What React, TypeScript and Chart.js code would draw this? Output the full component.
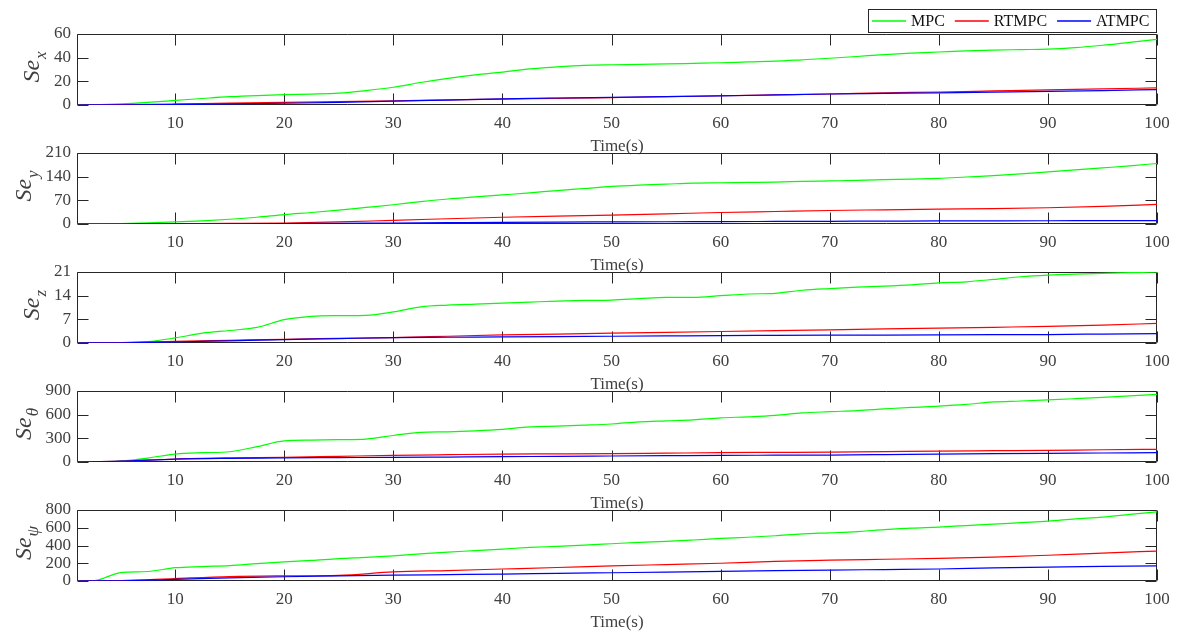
import React, { useEffect, useRef } from "react";
import { Chart, registerables } from "chart.js";

Chart.register(...registerables);

// ---------------- data ----------------
const T_FINE = [1, 2.5, 5, 7.5, 10, 12.5, 15, 17.5, 20, 22.5, 25, 27.5, 30, 32.5, 35, 37.5, 40, 42.5, 45, 47.5, 50, 52.5, 55, 57.5, 60, 62.5, 65, 67.5, 70, 72.5, 75, 77.5, 80, 82.5, 85, 87.5, 90, 92.5, 95, 97.5, 100];
const T_COARSE = [1, 5, 10, 15, 20, 25, 30, 35, 40, 45, 50, 55, 60, 65, 70, 75, 80, 85, 90, 95, 100];
const X_TICKS = [10, 20, 30, 40, 50, 60, 70, 80, 90, 100];
const X_TITLE = "Time(s)";
const SERIES_NAMES = ["MPC", "RTMPC", "ATMPC"];
const SERIES_COLORS = ["#00ff00", "#ff0000", "#0000ff"];
const LABEL_MAIN = "Se";
const LABEL_SUBS = ["x", "y", "z", "θ", "ψ"];

const Y_TICKS_X = [0, 20, 40, 60];
const Y_TICKS_Y = [0, 70, 140, 210];
const Y_TICKS_Z = [0, 7, 14, 21];
const Y_TICKS_TH = [0, 300, 600, 900];
const Y_TICKS_PSI = [0, 200, 400, 600, 800];

// MPC (on T_FINE)
const MPC_X = [0, 0.2, 1, 2.3, 3.9, 5.5, 7, 8, 8.7, 9.2, 10, 12.2, 15, 19, 22.5, 25.5, 27.8, 30.5, 32.2, 33.5, 34, 34.3, 34.7, 35.2, 35.7, 36.4, 37, 38.2, 39.5, 41, 42.6, 43.8, 44.8, 45.8, 46.4, 46.8, 47.2, 48.5, 50.5, 53, 55.5];
const MPC_Y = [0, 0.3, 1.5, 3.5, 6, 9.5, 14, 20, 28, 34, 41, 49, 57, 66, 74, 80, 86, 92, 99, 105, 111, 115, 118, 121, 122, 123, 124, 126, 127.5, 129, 131, 133, 135, 139, 143, 148, 154, 160, 166, 172, 179];
const MPC_Z = [0, 0, 0.1, 0.4, 1.5, 2.9, 3.7, 4.6, 6.9, 7.9, 8.1, 8.2, 9.2, 10.7, 11.2, 11.5, 11.8, 12.1, 12.4, 12.6, 12.7, 13.1, 13.5, 13.5, 14.0, 14.5, 14.7, 15.6, 16.1, 16.5, 16.8, 17.2, 17.8, 18.1, 18.8, 19.6, 20.1, 20.4, 20.6, 20.8, 21];
const MPC_TH = [0, 0, 12, 50, 101, 118, 130, 195, 268, 278, 283, 291, 336, 376, 383, 395, 414, 445, 455, 467, 482, 508, 522, 535, 560, 572, 590, 622, 638, 652, 673, 693, 708, 730, 762, 773, 787, 803, 820, 838, 858];
const MPC_PSI = [0, 3, 94, 107, 150, 163, 174, 196, 216, 232, 252, 266, 283, 305, 326, 342, 360, 378, 391, 405, 420, 435, 446, 462, 480, 493, 510, 530, 543, 557, 578, 596, 608, 625, 640, 658, 675, 700, 720, 750, 780];

// RTMPC / ATMPC (on T_COARSE)
const RT_X = [0, 0.3, 0.9, 1.6, 2.2, 2.8, 3.5, 4.3, 5.0, 5.6, 6.3, 7.0, 7.8, 8.5, 9.3, 10.2, 11.0, 11.9, 12.8, 13.6, 14.5];
const AT_X = [0, 0.1, 0.4, 0.9, 1.5, 2.3, 3.2, 4.2, 5.2, 5.9, 6.5, 7.1, 7.7, 8.5, 9.3, 9.8, 10.3, 10.9, 11.5, 12.2, 13.0];
const RT_Y = [0, 0.2, 0.8, 1.8, 3, 6, 11, 15.5, 20, 23.5, 26.5, 30, 34, 37, 40, 42, 44, 45.5, 48, 52, 58];
const AT_Y = [0, 0, 0.2, 0.5, 1, 2, 3, 4, 5, 5.7, 6.2, 6.7, 7, 7.5, 8, 8.5, 9, 9.3, 9.6, 9.8, 10];
const RT_Z = [0, 0.1, 0.5, 0.8, 1.1, 1.35, 1.6, 2.0, 2.4, 2.65, 2.9, 3.15, 3.4, 3.65, 3.9, 4.15, 4.4, 4.65, 4.9, 5.3, 5.8];
const AT_Z = [0, 0.05, 0.3, 0.65, 1.0, 1.3, 1.6, 1.7, 1.8, 1.9, 2.0, 2.1, 2.2, 2.25, 2.3, 2.35, 2.4, 2.45, 2.5, 2.65, 2.8];
const RT_TH = [0, 10, 38, 52, 60, 72, 84, 93, 101, 103, 106, 112, 118, 122, 126, 132, 139, 143, 147, 155, 160];
const AT_TH = [0, 10, 36, 47, 53, 56, 59, 63, 67, 72, 76, 80, 84, 86, 88, 94, 101, 106, 110, 114, 118];
const RT_PSI = [0, 4, 28, 50, 58, 64, 102, 118, 135, 152, 170, 185, 200, 222, 235, 245, 255, 270, 290, 315, 337];
const AT_PSI = [0, 3, 18, 35, 48, 57, 66, 72, 78, 86, 93, 100, 108, 116, 123, 129, 135, 148, 157, 164, 171];

const PANELS = [
  { sub: LABEL_SUBS[0], ticks: Y_TICKS_X, mpc: MPC_X, rt: RT_X, at: AT_X },
  { sub: LABEL_SUBS[1], ticks: Y_TICKS_Y, mpc: MPC_Y, rt: RT_Y, at: AT_Y },
  { sub: LABEL_SUBS[2], ticks: Y_TICKS_Z, mpc: MPC_Z, rt: RT_Z, at: AT_Z },
  { sub: LABEL_SUBS[3], ticks: Y_TICKS_TH, mpc: MPC_TH, rt: RT_TH, at: AT_TH },
  { sub: LABEL_SUBS[4], ticks: Y_TICKS_PSI, mpc: MPC_PSI, rt: RT_PSI, at: AT_PSI },
];

// ---------------- layout / style ----------------
const W = 1180;
const H = 633;
const LEFT = 77;
const RIGHT = 1157;
const PLOT_H = 71;
const PLOT_TOP0 = 34;
const PLOT_STEP = 119;
const PAD_TOP = 30;
const CANVAS_H = 156;
const TICK_LEN = 11;
const FONT = '"Liberation Serif", "Times New Roman", serif';
const TEXT_COLOR = "#404040";
const AXIS_COLOR = "#262626";

Chart.defaults.font.family = FONT;

const framePlugin = {
  id: "frame",
  beforeDatasetsDraw(chart: any) {
    const { ctx, chartArea: a, scales } = chart;
    ctx.save();
    ctx.strokeStyle = AXIS_COLOR;
    ctx.lineWidth = 1;
    ctx.beginPath();
    const l = Math.round(a.left) + 0.5;
    const r = Math.round(a.right) - 0.5;
    const t = Math.round(a.top) + 0.5;
    const b = Math.round(a.bottom) - 0.5;
    for (const tk of scales.x.ticks) {
      const px = Math.round(scales.x.getPixelForValue(tk.value)) + 0.5;
      ctx.moveTo(px, b);
      ctx.lineTo(px, b - TICK_LEN);
      ctx.moveTo(px, t);
      ctx.lineTo(px, t + TICK_LEN);
    }
    for (const tk of scales.y.ticks) {
      const py = Math.round(scales.y.getPixelForValue(tk.value)) + 0.5;
      ctx.moveTo(l, py);
      ctx.lineTo(l + TICK_LEN, py);
      ctx.moveTo(r, py);
      ctx.lineTo(r - TICK_LEN, py);
    }
    ctx.moveTo(l, t);
    ctx.lineTo(r, t);
    ctx.lineTo(r, b);
    ctx.lineTo(l, b);
    ctx.closePath();
    ctx.stroke();
    ctx.restore();
  },
};

const yLabelPlugin = {
  id: "ylab",
  afterDraw(chart: any, _args: any, opts: any) {
    const { ctx, chartArea: a, scales } = chart;
    ctx.save();
    ctx.font = `17px ${FONT}`;
    let maxW = 0;
    for (const tk of scales.y.ticks) {
      maxW = Math.max(maxW, ctx.measureText(String(tk.value)).width);
    }
    const tickLeft = a.left - 6 - maxW;
    const baseX = tickLeft - 15;
    const cy = (a.top + a.bottom) / 2 - 2;
    const mainFont = `italic 24px ${FONT}`;
    const subFont = `italic 17px ${FONT}`;
    ctx.font = mainFont;
    const w1 = ctx.measureText(opts.main).width;
    ctx.font = subFont;
    const w2 = ctx.measureText(opts.sub).width;
    ctx.translate(baseX, cy);
    ctx.rotate(-Math.PI / 2);
    ctx.fillStyle = TEXT_COLOR;
    ctx.textAlign = "left";
    ctx.textBaseline = "alphabetic";
    const start = -(w1 + w2) / 2;
    ctx.font = mainFont;
    ctx.fillText(opts.main, start, 0);
    ctx.font = subFont;
    ctx.fillText(opts.sub, start + w1 + 1, 7);
    ctx.restore();
  },
};

const legendPlugin = {
  id: "seriesLegend",
  afterDraw(chart: any, _args: any, opts: any) {
    if (!opts.show) return;
    const { ctx, chartArea: a } = chart;
    ctx.save();
    ctx.font = `16px ${FONT}`;
    const lineLen = 34;
    const padL = 4;
    const padR = 6;
    const gapText = 5;
    const gapItem = 9;
    const widths = SERIES_NAMES.map((n) => ctx.measureText(n).width);
    let total = padL + padR;
    widths.forEach((w: number, i: number) => {
      total += lineLen + gapText + w + (i < widths.length - 1 ? gapItem : 0);
    });
    const boxR = Math.round(a.right);
    const boxL = boxR - Math.round(total) - 4;
    const boxT = Math.round(a.top) - 25;
    const boxH = 23;
    ctx.fillStyle = "#ffffff";
    ctx.fillRect(boxL, boxT, boxR - boxL, boxH);
    ctx.strokeStyle = AXIS_COLOR;
    ctx.lineWidth = 1;
    ctx.strokeRect(boxL + 0.5, boxT + 0.5, boxR - boxL - 1, boxH);
    const cy = boxT + boxH / 2 + 0.5;
    let x = boxL + padL;
    SERIES_NAMES.forEach((name, i) => {
      ctx.strokeStyle = SERIES_COLORS[i];
      ctx.lineWidth = 1.4;
      ctx.beginPath();
      ctx.moveTo(x, cy);
      ctx.lineTo(x + lineLen, cy);
      ctx.stroke();
      x += lineLen + gapText;
      ctx.fillStyle = "#111111";
      ctx.textAlign = "left";
      ctx.textBaseline = "middle";
      ctx.fillText(name, x, cy + 1);
      x += widths[i] + gapItem + 1;
    });
    ctx.restore();
  },
};

function Panel({ idx }: { idx: number }) {
  const ref = useRef<HTMLCanvasElement>(null);
  useEffect(() => {
    const p = PANELS[idx];
    const mk = (t: number[], v: number[]) => t.map((x, i) => ({ x, y: v[i] }));
    const common = {
      borderWidth: 1.2,
      pointRadius: 0,
      fill: false,
      cubicInterpolationMode: "monotone" as const,
    };
    const chart = new Chart(ref.current as HTMLCanvasElement, {
      type: "line",
      data: {
        datasets: [
          { ...common, label: SERIES_NAMES[0], data: mk(T_FINE, p.mpc), borderColor: SERIES_COLORS[0], order: 3 },
          { ...common, label: SERIES_NAMES[1], data: mk(T_COARSE, p.rt), borderColor: SERIES_COLORS[1], order: 2 },
          { ...common, label: SERIES_NAMES[2], data: mk(T_COARSE, p.at), borderColor: SERIES_COLORS[2], order: 1 },
        ],
      },
      options: {
        animation: false,
        responsive: false,
        maintainAspectRatio: false,
        events: [],
        layout: { padding: { top: PAD_TOP, right: W - RIGHT, left: 0, bottom: 0 } },
        plugins: {
          legend: { display: false },
          tooltip: { enabled: false },
          ylab: { main: LABEL_MAIN, sub: p.sub },
          seriesLegend: { show: idx === 0 },
        } as any,
        scales: {
          x: {
            type: "linear",
            min: 1,
            max: 100,
            afterBuildTicks: (s: any) => {
              s.ticks = X_TICKS.map((v) => ({ value: v }));
            },
            afterFit: (s: any) => {
              s.height = CANVAS_H - PAD_TOP - PLOT_H;
            },
            grid: { display: false, drawTicks: false },
            border: { display: false },
            ticks: {
              color: TEXT_COLOR,
              font: { size: 17, family: FONT },
              padding: 8,
              maxRotation: 0,
              autoSkip: false,
            },
            title: {
              display: true,
              text: X_TITLE,
              color: TEXT_COLOR,
              font: { size: 17, family: FONT },
              padding: { top: 0, bottom: 3 },
            },
          },
          y: {
            type: "linear",
            min: p.ticks[0],
            max: p.ticks[p.ticks.length - 1],
            afterBuildTicks: (s: any) => {
              s.ticks = p.ticks.map((v) => ({ value: v }));
            },
            afterFit: (s: any) => {
              s.width = LEFT;
            },
            grid: { display: false, drawTicks: false },
            border: { display: false },
            ticks: {
              color: TEXT_COLOR,
              font: { size: 17, family: FONT },
              padding: 6,
              autoSkip: false,
            },
          },
        },
      },
      plugins: [framePlugin, yLabelPlugin, legendPlugin],
    });
    return () => chart.destroy();
  }, [idx]);
  return (
    <canvas
      ref={ref}
      width={W}
      height={CANVAS_H}
      style={{
        position: "absolute",
        left: 0,
        top: PLOT_TOP0 + idx * PLOT_STEP - PAD_TOP,
        width: W,
        height: CANVAS_H,
      }}
    />
  );
}

export default function App() {
  return (
    <div
      style={{
        position: "absolute",
        left: 0,
        top: 0,
        width: W,
        height: H,
        overflow: "hidden",
        background: "#ffffff",
      }}
    >
      {PANELS.map((_, i) => (
        <Panel key={i} idx={i} />
      ))}
    </div>
  );
}
